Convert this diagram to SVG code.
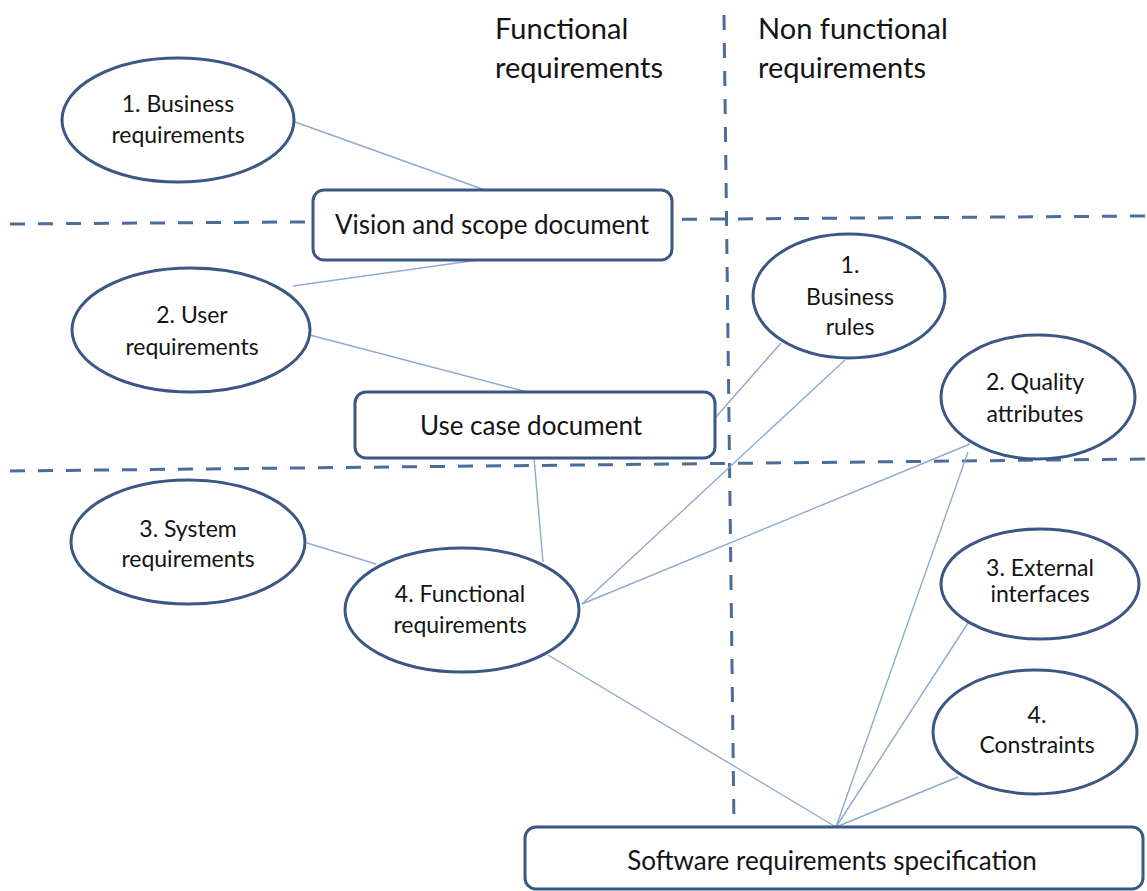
<svg xmlns="http://www.w3.org/2000/svg" width="1147" height="891" viewBox="0 0 1147 891">
  <style>
    .bg { fill: #ffffff; }
    .divider { fill: none; stroke: #4a6d9c; stroke-width: 3; stroke-dasharray: 15 13; }
    .link { fill: none; stroke: #8eaad0; stroke-width: 1.4; }
    .oval { fill: #ffffff; stroke: #3b5783; stroke-width: 3; }
    .doc { fill: #ffffff; stroke: #3b5783; stroke-width: 3; }
    .lbl { font-family: Lato, "Open Sans", "Liberation Sans", sans-serif; fill: #141414; text-anchor: middle; }
    .small { font-size: 23px; }
    .big { font-size: 26px; }
    .head { font-family: Lato, "Open Sans", "Liberation Sans", sans-serif; fill: #141414; font-size: 29px; }
  </style>

  <rect class="bg" x="0" y="0" width="1147" height="891"/>

  <!-- quadrant dividers -->
  <g id="dividers">
    <line class="divider" x1="10" y1="224" x2="1147" y2="216"/>
    <line class="divider" x1="10" y1="471" x2="1147" y2="459"/>
    <line class="divider" x1="724" y1="15" x2="734" y2="826"/>
  </g>

  <!-- column headings -->
  <g id="heading-functional">
    <text class="head" x="495" y="39">Functional</text>
    <text class="head" x="495" y="78">requirements</text>
  </g>
  <g id="heading-nonfunctional">
    <text class="head" x="758" y="39">Non functional</text>
    <text class="head" x="758" y="78">requirements</text>
  </g>

  <!-- connectors -->
  <g id="connectors">
    <line class="link" x1="295" y1="122" x2="485" y2="190"/>
    <line class="link" x1="478" y1="260" x2="293" y2="286"/>
    <line class="link" x1="306" y1="334" x2="527" y2="392"/>
    <line class="link" x1="534" y1="458" x2="543" y2="562"/>
    <line class="link" x1="307" y1="543" x2="376" y2="564"/>
    <line class="link" x1="715" y1="418" x2="781" y2="343"/>
    <line class="link" x1="582" y1="604" x2="845" y2="360"/>
    <line class="link" x1="582" y1="604" x2="970" y2="444"/>
    <line class="link" x1="548" y1="655" x2="836" y2="827"/>
    <line class="link" x1="968" y1="452" x2="836" y2="827"/>
    <line class="link" x1="968" y1="623" x2="836" y2="827"/>
    <line class="link" x1="958" y1="777" x2="836" y2="827"/>
  </g>

  <!-- documents -->
  <g id="vision-scope">
    <rect class="doc" x="313" y="190" width="359" height="70" rx="11"/>
    <text class="lbl big" x="492" y="234">Vision and scope document</text>
  </g>
  <g id="use-case">
    <rect class="doc" x="355" y="392" width="360" height="66" rx="11"/>
    <text class="lbl big" x="531" y="435">Use case document</text>
  </g>
  <g id="srs">
    <rect class="doc" x="525" y="827" width="618" height="62" rx="11"/>
    <text class="lbl big" x="832" y="870">Software requirements specification</text>
  </g>

  <!-- functional requirement levels -->
  <g id="business-requirements">
    <ellipse class="oval" cx="178" cy="120" rx="116" ry="62"/>
    <text class="lbl small" x="178" y="112">1. Business</text>
    <text class="lbl small" x="178" y="143">requirements</text>
  </g>
  <g id="user-requirements">
    <ellipse class="oval" cx="191" cy="330" rx="119" ry="62"/>
    <text class="lbl small" x="192" y="323">2. User</text>
    <text class="lbl small" x="192" y="355">requirements</text>
  </g>
  <g id="system-requirements">
    <ellipse class="oval" cx="188" cy="542" rx="117" ry="62"/>
    <text class="lbl small" x="188" y="537">3. System</text>
    <text class="lbl small" x="188" y="567">requirements</text>
  </g>
  <g id="functional-requirements">
    <ellipse class="oval" cx="462" cy="610" rx="117" ry="62"/>
    <text class="lbl small" x="460" y="602">4. Functional</text>
    <text class="lbl small" x="460" y="633">requirements</text>
  </g>

  <!-- non functional requirement kinds -->
  <g id="business-rules">
    <ellipse class="oval" cx="849" cy="296" rx="96" ry="62"/>
    <text class="lbl small" x="850" y="273">1.</text>
    <text class="lbl small" x="850" y="305">Business</text>
    <text class="lbl small" x="850" y="335">rules</text>
  </g>
  <g id="quality-attributes">
    <ellipse class="oval" cx="1038" cy="397" rx="97" ry="62"/>
    <text class="lbl small" x="1035" y="390">2. Quality</text>
    <text class="lbl small" x="1035" y="422">attributes</text>
  </g>
  <g id="external-interfaces">
    <ellipse class="oval" cx="1040" cy="584" rx="99" ry="55"/>
    <text class="lbl small" x="1040" y="576">3. External</text>
    <text class="lbl small" x="1040" y="602">interfaces</text>
  </g>
  <g id="constraints">
    <ellipse class="oval" cx="1035" cy="732" rx="102" ry="62"/>
    <text class="lbl small" x="1037" y="723">4.</text>
    <text class="lbl small" x="1037" y="753">Constraints</text>
  </g>
</svg>
